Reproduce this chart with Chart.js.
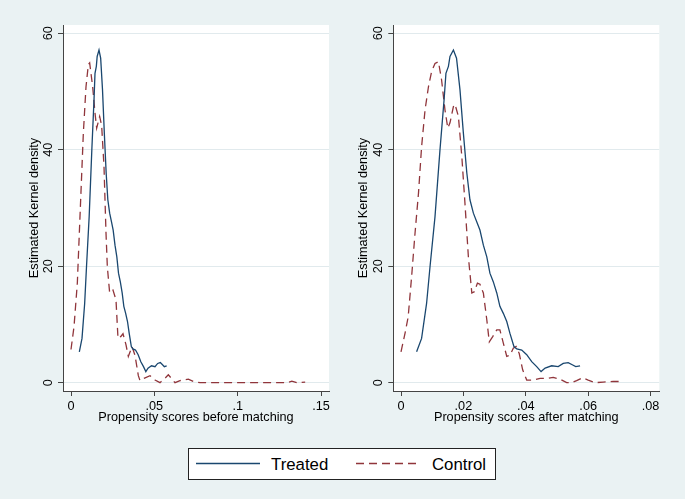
<!DOCTYPE html>
<html>
<head>
<meta charset="utf-8">
<script src="https://cdn.jsdelivr.net/npm/chart.js@4"></script>
<style>
body { margin: 0; width: 685px; height: 499px; overflow: hidden; position: relative;
       background: #eaf2f3; font-family: "Liberation Sans", Arial, sans-serif; }
canvas { position: absolute; top: 0; }
#left { left: 0; }
#right { left: 342px; }
#legendBox { position: absolute; left: 188px; top: 448px; width: 306px; height: 30px;
             background: #fff; border: 1px solid #222; }
.key { position: absolute; top: 459px; }
.lab { position: absolute; top: 455px; font-size: 16.8px; line-height: 20px; color: #000; }
</style>
</head>
<body>
<canvas id="left" width="342" height="440"></canvas>
<canvas id="right" width="343" height="440"></canvas>

<div id="legendBox"></div>
<svg class="key" style="left:196px" width="65" height="9">
  <line x1="0" y1="4.5" x2="64" y2="4.5" stroke="#1a476f" stroke-width="1.5"/>
</svg>
<div class="lab" style="left:271px">Treated</div>
<svg class="key" style="left:356px" width="66" height="9">
  <line x1="0" y1="4.5" x2="65" y2="4.5" stroke="#90353b" stroke-width="1.5" stroke-dasharray="8 5"/>
</svg>
<div class="lab" style="left:432px">Control</div>

<script>
/* kernel density estimates */

// treated group (same in both panels)
const treatedX = [0.0050, 0.0066, 0.0082, 0.0093, 0.0109, 0.0125, 0.0138, 0.0144, 0.0152, 0.0157,
    0.0168, 0.0178, 0.0189, 0.0200, 0.0211, 0.0221, 0.0232, 0.0243, 0.0253, 0.0264,
    0.0275, 0.0285, 0.0296, 0.0307, 0.0317, 0.0328, 0.0339, 0.0349, 0.0362, 0.0371,
    0.0387, 0.0403, 0.0419, 0.0435, 0.0449, 0.0462, 0.0483, 0.0504, 0.0520, 0.0536,
    0.0552, 0.0560, 0.0574];
const treatedY = [5.3, 7.6, 13.6, 19.9, 28.5, 40.0, 48.5, 53.1, 54.3, 56.0,
    57.1, 55.7, 50.3, 42.8, 36.0, 31.4, 29.1, 27.6, 26.2, 23.6,
    21.6, 18.8, 17.3, 15.4, 13.1, 11.9, 10.5, 8.5, 6.2, 5.8,
    5.6, 4.8, 3.6, 2.75, 1.9, 2.5, 2.9, 2.75, 3.3, 3.45,
    3.0, 2.75, 2.9];

// control group before matching
const controlBeforeX = [0, 0.0018, 0.0038, 0.0058, 0.0074, 0.0090, 0.0104, 0.0112, 0.0130, 0.0144,
    0.0154, 0.0172, 0.0184, 0.0198, 0.0210, 0.0218, 0.0232, 0.0252, 0.0270, 0.0282,
    0.0298, 0.0312, 0.0330, 0.0344, 0.0366, 0.0384, 0.0404, 0.0414, 0.0438, 0.0474,
    0.0504, 0.0534, 0.0564, 0.0584, 0.0604, 0.0624, 0.0654, 0.0704, 0.0734, 0.0774,
    0.1295, 0.1325, 0.1355, 0.1405];
const controlBeforeY = [5.7, 9.6, 17.1, 31.4, 42.8, 50.8, 54.6, 54.9, 50.8, 46.3,
    43.7, 45.7, 44.1, 37.1, 25.7, 19.9, 15.4, 15.9, 14.2, 7.6,
    7.9, 8.4, 6.5, 4.5, 6.2, 4.7, 1.2, 0.35, 0.75, 1.2,
    0.45, 0, 0.75, 1.35, 0.7, 0, 0.35, 0.6, 0.2, 0,
    0, 0.25, 0, 0.1];

// control group after matching
const controlAfterX = [0, 0.0013, 0.0023, 0.0034, 0.0045, 0.0056, 0.0066, 0.0077, 0.0088, 0.0098,
    0.0109, 0.0120, 0.0130, 0.0141, 0.0150, 0.0157, 0.0168, 0.0173, 0.0184, 0.0195,
    0.0205, 0.0216, 0.0227, 0.0235, 0.0245, 0.0253, 0.0264, 0.0275, 0.0283, 0.0294,
    0.0307, 0.0317, 0.0328, 0.0339, 0.0349, 0.0360, 0.0369, 0.0379, 0.0390, 0.0403,
    0.0424, 0.0446, 0.0472, 0.0488, 0.0510, 0.0531, 0.0547, 0.0563, 0.0582, 0.0600,
    0.0622, 0.0648, 0.0680, 0.0712];
const controlAfterY = [5.3, 8.5, 11.3, 18.2, 25.7, 32.5, 40.5, 46.8, 50.8, 53.4,
    54.8, 55.1, 52.0, 46.8, 43.7, 44.6, 47.4, 47.8, 45.7, 38.8,
    30.8, 21.6, 15.4, 15.6, 17.1, 16.9, 15.4, 10.8, 7.0, 7.9,
    9.05, 9.05, 6.8, 4.5, 4.7, 5.9, 6.2, 5.0, 2.2, 0.45,
    0.45, 0.75, 0.75, 0.9, 0.6, 0.0, 0.0, 0.35, 0.85, 0.45,
    0.0, 0.1, 0.2, 0.2];

// tick labels
const yTicks = [0, 20, 40, 60];
const xTicksBefore = [0, 0.05, 0.1, 0.15];
const xTicksAfter = [0, 0.02, 0.04, 0.06, 0.08];

const navy = "#1a476f";
const maroon = "#90353b";
const axisColor = "#444";
const gridColor = "#e1eaed";
const font = {family: "'Liberation Sans', Arial, sans-serif", size: 12.7};

function toPoints(xs, ys) {
    return xs.map((x, i) => ({x: x, y: ys[i]}));
}

// Stata style: drop the leading zero
function stataNum(v) {
    if (v === 0) return "0";
    return String(v).replace(/^0\./, ".");
}

// white plot region, grey graph region
const plotBg = {
    id: "plotBg",
    beforeDraw(chart) {
        const a = chart.chartArea;
        chart.ctx.save();
        chart.ctx.fillStyle = "#fff";
        chart.ctx.fillRect(a.left, a.top, a.right - a.left, a.bottom - a.top);
        chart.ctx.restore();
    }
};

// vertical y tick labels, like Stata draws them
const yLabels = {
    id: "yLabels",
    afterDraw(chart) {
        const ctx = chart.ctx;
        const scale = chart.scales.y;
        ctx.save();
        ctx.fillStyle = "#000";
        ctx.font = font.size + "px " + font.family;
        ctx.textAlign = "center";
        ctx.textBaseline = "middle";
        scale.ticks.forEach((t) => {
            ctx.save();
            ctx.translate(chart.chartArea.left - 14.5, scale.getPixelForValue(t.value));
            ctx.rotate(-Math.PI / 2);
            ctx.fillText(String(t.value), 0, 0);
            ctx.restore();
        });
        ctx.restore();
    }
};

function makeChart(id, o) {
    return new Chart(document.getElementById(id), {
        type: "line",
        data: {
            datasets: [
                {label: "Treated", data: toPoints(treatedX, treatedY), borderColor: navy,
                 borderWidth: 1.3, pointRadius: 0, tension: 0, fill: false},
                {label: "Control", data: toPoints(o.controlX, o.controlY), borderColor: maroon,
                 borderWidth: 1.3, borderDash: [8, 5], pointRadius: 0, tension: 0, fill: false}
            ]
        },
        options: {
            responsive: false,
            animation: false,
            devicePixelRatio: 1,
            layout: {padding: {left: 0, top: 25, right: o.padRight, bottom: 0}},
            plugins: {legend: {display: false}, tooltip: {enabled: false}},
            scales: {
                x: {
                    type: "linear", min: o.xMin, max: o.xMax,
                    afterBuildTicks: (s) => { s.ticks = o.xTicks.map((v) => ({value: v})); },
                    afterFit: (s) => { s.height = 49; },
                    ticks: {callback: (v) => stataNum(v), font: font, color: "#000",
                            padding: 2.5, autoSkip: false, maxRotation: 0},
                    grid: {drawOnChartArea: false, tickLength: 5, tickColor: axisColor},
                    border: {color: axisColor, width: 1},
                    title: {display: true, text: o.xTitle, font: font, color: "#000",
                            padding: {top: 0, bottom: 14.4}}
                },
                y: {
                    min: -1.43, max: 61.4,
                    afterBuildTicks: (s) => { s.ticks = yTicks.map((v) => ({value: v})); },
                    afterFit: (s) => { s.width = o.yWidth; },
                    ticks: {display: false},
                    grid: {color: gridColor, tickLength: 5, tickColor: axisColor},
                    border: {color: axisColor, width: 1},
                    title: {display: true, text: "Estimated Kernel density", font: font, color: "#000",
                            padding: {top: o.yTitlePad, bottom: 0}}
                }
            }
        },
        plugins: [plotBg, yLabels]
    });
}

makeChart("left", {
    controlX: controlBeforeX, controlY: controlBeforeY,
    xMin: -0.0048, xMax: 0.1548, xTicks: xTicksBefore,
    xTitle: "Propensity scores before matching",
    padRight: 13, yWidth: 63, yTitlePad: 26.4
});

makeChart("right", {
    controlX: controlAfterX, controlY: controlAfterY,
    xMin: -0.00247, xMax: 0.0828, xTicks: xTicksAfter,
    xTitle: "Propensity scores after matching",
    padRight: 25.7, yWidth: 51.3, yTitlePad: 14.2
});
</script>
</body>
</html>
